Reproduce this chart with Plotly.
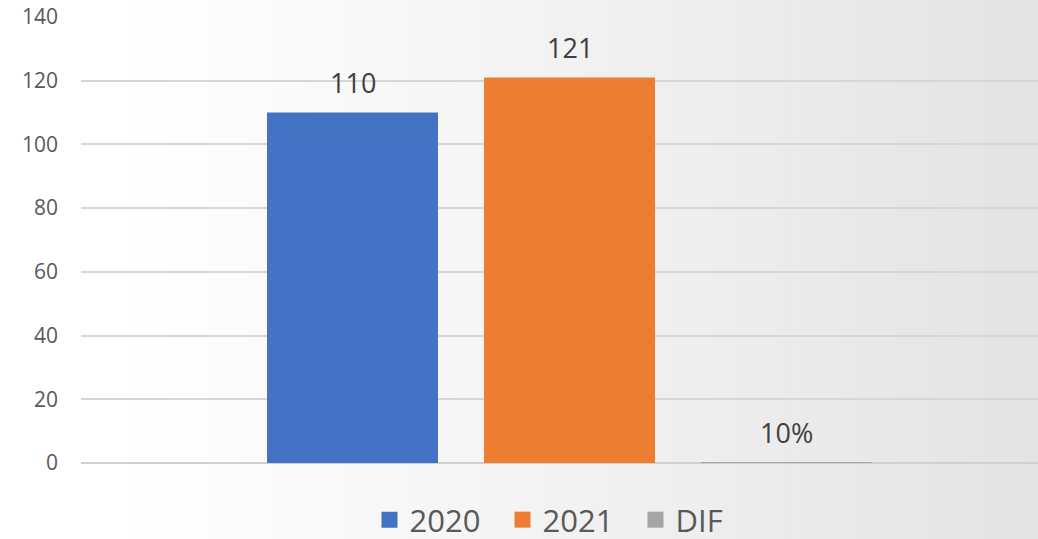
import plotly.graph_objects as go

# ---- data ----
series_names = ["2020", "2021", "DIF"]
values = [110, 121, 0.1]
value_labels = ["110", "121", "10%"]
colors = ["#4472C4", "#ED7D31", "#A5A5A5"]
category = ["Total"]
y_ticks = [0, 20, 40, 60, 80, 100, 120, 140]

W, H = 1038, 539
ml, mr, mt, mb = 81, 0, 17, 76
plot_w = W - ml - mr
plot_h = H - mt - mb

bargap = 0.3337
bargroupgap = 0.212
x_lo = -0.5
x_hi = -0.5 + plot_w * 0.5 / 488.5

fig = go.Figure()

for name, v, c in zip(series_names, values, colors):
    fig.add_trace(go.Bar(x=category, y=[v], name=name, marker=dict(color=c, line=dict(width=0)),
                         showlegend=False, hoverinfo="skip"))

# legend proxies with larger square symbols
for name, c in zip(series_names, colors):
    fig.add_trace(go.Scatter(x=[None], y=[None], mode="markers", name=name,
                             marker=dict(symbol="square", size=20, color=c)))

# value labels placed from data
n = len(series_names)
slot = (1 - bargap) / n
for i, (v, lab) in enumerate(zip(values, value_labels)):
    xc = -(1 - bargap) / 2 + slot * (i + 0.5)
    fig.add_annotation(x=xc, y=v, text=lab, showarrow=False, yanchor="middle",
                       yshift=30, font=dict(family="Open Sans", size=27, color="#404040"))

# background gradient (white left -> light gray right)
shapes = []
N = 80
for k in range(N):
    px0 = k * W / N
    px1 = (k + 1) * W / N
    t = max(0.0, min(1.0, ((px0 + px1) / 2 - 100) / 938))
    v = int(round(255 - 28 * t ** 1.1))
    col = f"rgb({v},{v},{v})"
    shapes.append(dict(type="rect", xref="paper", yref="paper", layer="below",
                       x0=(px0 - ml) / plot_w, x1=(px1 - ml + 1) / plot_w,
                       y0=-mb / plot_h - 0.01, y1=1 + mt / plot_h + 0.01,
                       fillcolor=col, line=dict(width=0)))

fig.update_layout(
    width=W, height=H,
    margin=dict(l=ml, r=mr, t=mt, b=mb, autoexpand=False),
    paper_bgcolor="white",
    plot_bgcolor="rgba(0,0,0,0)",
    barmode="group", bargap=bargap, bargroupgap=bargroupgap,
    shapes=shapes,
    showlegend=True,
    legend=dict(orientation="h", x=(569 - ml) / plot_w, xanchor="center", y=-(520 - 463) / plot_h,
                yanchor="middle", font=dict(family="Open Sans", size=31, color="#595959"),
                bgcolor="rgba(0,0,0,0)", itemclick=False, borderwidth=0,
                entrywidth=88, entrywidthmode="pixels"),
    xaxis=dict(range=[x_lo, x_hi], showticklabels=False, showgrid=False, zeroline=False,
               showline=False, fixedrange=True),
    yaxis=dict(range=[0, 140], tickvals=y_ticks, showgrid=True, gridcolor="#d6d6d6",
               gridwidth=1.5, zeroline=True, zerolinecolor="#d0d0d0", zerolinewidth=1.5,
               showline=False, ticks="", ticklabelstandoff=22,
               tickfont=dict(family="Open Sans", size=21, color="#595959")),
)

fig.write_html("out.html", config={"displayModeBar": False},
               post_script="document.body.style.margin='0';document.body.style.overflow='hidden';")
